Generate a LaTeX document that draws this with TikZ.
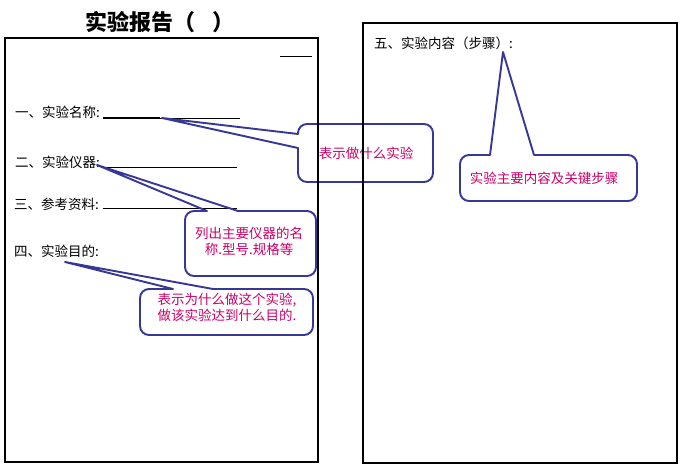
\documentclass[tikz,border=0pt]{standalone}
\usepackage{fontspec}
\setmainfont{Noto Sans CJK SC}
\definecolor{calloutblue}{RGB}{55,55,150}
\definecolor{notepink}{RGB}{204,0,102}
\begin{document}
\begin{tikzpicture}[x=1pt,y=-1pt,
  frame/.style={line width=2.2pt},
  uline/.style={line width=0.8pt},
  item/.style={anchor=west, inner sep=0pt, font=\fontsize{13.5}{16}\selectfont},
  callout/.style={draw=calloutblue, line width=1.9pt, line cap=round, line join=round},
  note/.style={text=notepink, inner sep=0pt, align=center, font=\fontsize{13.5}{16}\selectfont}]
\useasboundingbox (0,0) rectangle (682,473);

% title
\node[anchor=west, inner sep=0pt, font=\fontsize{22}{24}\selectfont\bfseries] (title) at (85,22) {实验报告（\hspace{17pt}）};

% left page items
\draw[uline] (280,56) -- (312,56);
\node[item] (i1) at (15,112) {一、实验名称:};
\coordinate (u1a) at (103,118); \coordinate (u1b) at (240,118);
\draw[uline] (u1a) -- (u1b);
\draw[line width=1.4pt] (u1a) -- (160,118);
\node[item] (i2) at (15,162) {二、实验仪器:};
\coordinate (u2a) at (105,167); \coordinate (u2b) at (237,167);
\draw[uline] (u2a) -- (u2b);
\node[item] (i3) at (14,204) {三、参考资料:};
\coordinate (u3a) at (103,208); \coordinate (u3b) at (237,208);
\draw[uline] (u3a) -- (u3b);
\node[item] (i4) at (14,251) {四、实验目的:};

% right page
\node[item] (i5) at (374,43) {五、实验内容（步骤）:};

% callout 1
\coordinate (t1) at (162,118);
\draw[callout] (298,134) -- (t1) -- (298,148) [rounded corners=9pt] -- (298,182) -- (433,182) -- (433,124) -- (298,124) -- (298,134);
\node[note] (n1) at (366,153) {表示做什么实验};

% callout 2
\coordinate (t2) at (97,165);
\draw[callout] (238,211) -- (t2) -- (207,211) [rounded corners=9pt] -- (185,211) -- (185,276) -- (316,276) -- (316,211) -- (238,211);
\node[note] (n2) at (249,241) {列出主要仪器的名\\称.型号.规格等};

% callout 3
\coordinate (t3) at (65,262);
\draw[callout] (213,289) -- (t3) -- (173,289) [rounded corners=9pt] -- (140,289) -- (140,335) -- (313,335) -- (313,289) -- (213,289);
\node[note] (n3) at (227,307) {表示为什么做这个实验,\\做该实验达到什么目的.};

% callout 4
\coordinate (t4) at (503,52);
\draw[callout] (534,155) -- (t4) -- (490,155) [rounded corners=9pt] -- (460,155) -- (460,201) -- (637,201) -- (637,155) -- (534,155);
\node[note] (n4) at (544,178) {实验主要内容及关键步骤};

% frames
\draw[frame] (5,38) rectangle (318,462);
\draw[frame] (363,23) rectangle (677,463);
\end{tikzpicture}
\end{document}
